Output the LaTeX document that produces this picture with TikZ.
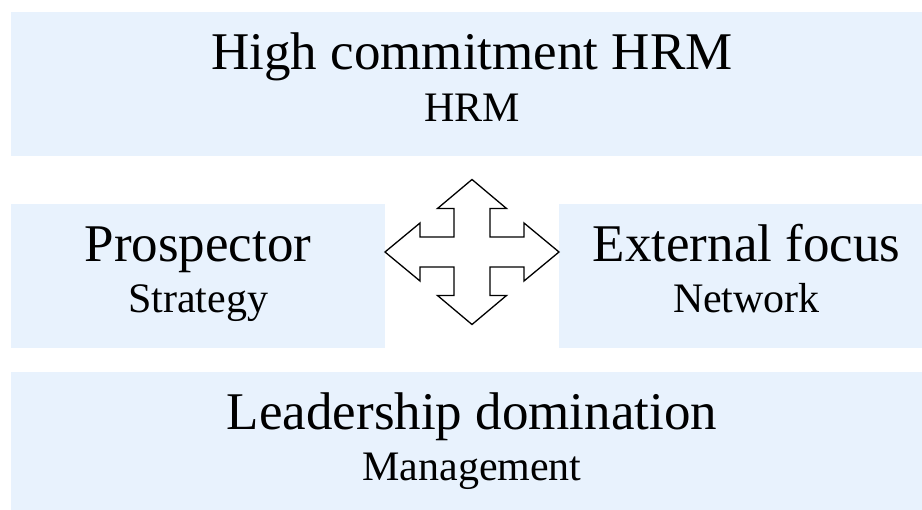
\documentclass[tikz,border=0pt]{standalone}
\usepackage{fontspec}
\setmainfont{Liberation Serif}
\usetikzlibrary{positioning}
\definecolor{boxblue}{RGB}{232,242,253}

\begin{document}
\begin{tikzpicture}[x=1pt, y=-1pt,
  panel/.style={fill=boxblue, draw=none, minimum height=144pt, inner sep=0pt},
  title/.style={anchor=base, font=\fontsize{53}{60}\selectfont},
  subtitle/.style={anchor=base, font=\fontsize{42}{48}\selectfont}]
  \useasboundingbox (0,0) rectangle (922,510);
  \clip (0,0) rectangle (922,510);
  % four panels
  \node[panel, minimum width=922pt] (hrm) at (472,84) {};
  \node[panel, minimum width=374pt] (strategy) at (198,276) {};
  \node[panel, minimum width=375pt] (network) at (746.5,276) {};
  \node[panel, minimum width=922pt] (management) at (472,444) {};
  % texts
  \node[title] (hrmTitle) at ([yshift=14pt]hrm.center) {High commitment HRM};
  \node[subtitle] (hrmSub) at ([yshift=-38pt]hrm.center) {HRM};
  \node[title] (strategyTitle) at ([yshift=14pt]strategy.center) {Prospector};
  \node[subtitle] (strategySub) at ([yshift=-37pt]strategy.center) {Strategy};
  \node[title] (networkTitle) at ([yshift=14pt]network.center) {External focus};
  \node[subtitle] (networkSub) at ([yshift=-37pt]network.center) {Network};
  \node[title] (managementTitle) at ([yshift=14pt]management.center) {Leadership domination};
  \node[subtitle] (managementSub) at ([yshift=-37pt]management.center) {Management};
  % four-way arrow
  \coordinate (cross) at (472,252);
  \draw[line width=1.3pt, fill=white, line join=miter, shift={(cross)}]
    (0,-72.5) -- (34.5,-43.5) -- (18,-43.5) -- (18,-15) -- (52,-15) -- (52,-29)
    -- (87,0) -- (52,29) -- (52,15) -- (18,15) -- (18,43.5) -- (34.5,43.5)
    -- (0,72.5) -- (-34.5,43.5) -- (-18,43.5) -- (-18,15) -- (-52,15) -- (-52,29)
    -- (-87,0) -- (-52,-29) -- (-52,-15) -- (-18,-15) -- (-18,-43.5) -- (-34.5,-43.5)
    -- cycle;
\end{tikzpicture}
\end{document}
